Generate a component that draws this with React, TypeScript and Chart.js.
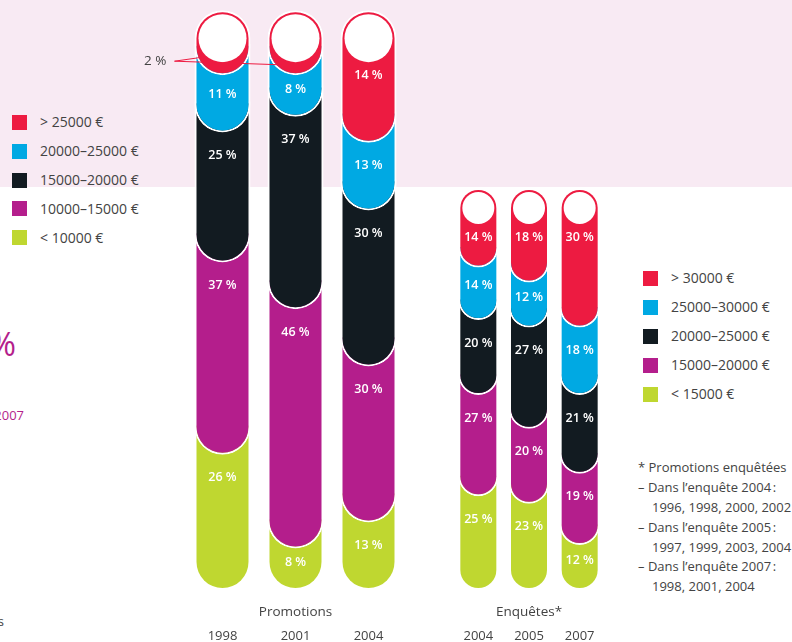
import React, { useEffect, useRef } from 'react';
import { Chart, registerables } from 'chart.js';

Chart.register(...registerables);

const FONT = '"Open Sans", "Noto Sans", sans-serif';
const TEXT = '#434343';
const PINK = '#F8EAF3';
const WHITE = '#FFFFFF';
const MAGENTA_TEXT = '#B41E8C';

// colours, top band first
const COLORS = ['#ED1B41', '#00A9E3', '#121B21', '#B41E8C', '#BFD730'];

const PROMO_BANDS = ['> 25000 €', '20000–25000 €', '15000–20000 €', '10000–15000 €', '< 10000 €'];
const ENQ_BANDS = ['> 30000 €', '25000–30000 €', '20000–25000 €', '15000–20000 €', '< 15000 €'];

const PROMO_YEARS = ['1998', '2001', '2004'];
const ENQ_YEARS = ['2004', '2005', '2007'];

// Promotions (share in %), per year 1998, 2001, 2004
const PROMO_OVER_25000 = [2, 2, 14];
const PROMO_20000_25000 = [11, 8, 13];
const PROMO_15000_20000 = [25, 37, 30];
const PROMO_10000_15000 = [37, 46, 30];
const PROMO_UNDER_10000 = [26, 8, 13];

// Enquêtes (share in %), per survey 2004, 2005, 2007
const ENQ_OVER_30000 = [14, 18, 30];
const ENQ_25000_30000 = [14, 12, 18];
const ENQ_20000_25000 = [20, 27, 21];
const ENQ_15000_20000 = [27, 20, 19];
const ENQ_UNDER_15000 = [25, 23, 12];

const NOTE_LINES = [
  '* Promotions enquêtées',
  '– Dans l’enquête 2004\u202F:',
  '1996, 1998, 2000, 2002',
  '– Dans l’enquête 2005\u202F:',
  '1997, 1999, 2003, 2004',
  '– Dans l’enquête 2007\u202F:',
  '1998, 2001, 2004',
];

type Group = {
  title: string;
  years: string[];
  bands: string[];
  series: number[][];
  thickness: number;
  area: { left: number; right: number; top: number; bottom: number };
  capTop: number;
  overlap: number;
};

const PROMO: Group = {
  title: 'Promotions',
  years: PROMO_YEARS,
  bands: PROMO_BANDS,
  series: [PROMO_OVER_25000, PROMO_20000_25000, PROMO_15000_20000, PROMO_10000_15000, PROMO_UNDER_10000],
  thickness: 56,
  area: { left: 186, right: 792 - 405, top: 70, bottom: 52 },
  capTop: 111.5,
  overlap: 6,
};

const ENQ: Group = {
  title: 'Enquêtes*',
  years: ENQ_YEARS,
  bands: ENQ_BANDS,
  series: [ENQ_OVER_30000, ENQ_25000_30000, ENQ_20000_25000, ENQ_15000_20000, ENQ_UNDER_15000],
  thickness: 40,
  area: { left: 453, right: 792 - 605, top: 215, bottom: 52 },
  capTop: 107.2,
  overlap: 6,
};

function belowOf(g: Group, b: number, j: number) {
  let s = 0;
  for (let k = b + 1; k < g.series.length; k++) s += g.series[k][j];
  return s;
}

function floatingData(g: Group) {
  return g.series.map((vals, b) =>
    vals.map((v, j) => {
      const below = belowOf(g, b, j);
      const high = b === 0 ? g.capTop : below + v + g.overlap;
      return [below, high];
    })
  );
}

function drawValue(ctx: CanvasRenderingContext2D, text: string, x: number, y: number) {
  ctx.font = `600 12.5px ${FONT}`;
  ctx.fillStyle = WHITE;
  ctx.textAlign = 'center';
  ctx.textBaseline = 'middle';
  ctx.fillText(text, x, y);
}

function tubePlugin(g: Group) {
  return {
    id: 'tubes',
    afterDatasetsDraw(chart: any) {
      const ctx: CanvasRenderingContext2D = chart.ctx;
      const yScale = chart.scales.y;
      const area = chart.chartArea;
      ctx.save();

      const small: { x: number; R: number; bottom: number; v: number }[] = [];
      const topMeta = chart.getDatasetMeta(0);
      topMeta.data.forEach((el: any, j: number) => {
        const p = el.getProps(['x', 'y', 'width'], true);
        const R = p.width / 2;
        const cy = p.y + R;
        const cr = R - 4;
        ctx.beginPath();
        ctx.arc(p.x, cy, cr, 0, Math.PI * 2);
        ctx.fillStyle = WHITE;
        ctx.fill();
        const v = g.series[0][j];
        if (v < 5) small.push({ x: p.x, R, bottom: cy + cr, v });
        else drawValue(ctx, `${v} %`, p.x, cy + cr + 13);
      });

      for (let b = 1; b < g.series.length; b++) {
        const meta = chart.getDatasetMeta(b);
        meta.data.forEach((el: any, j: number) => {
          const p = el.getProps(['x', 'base'], true);
          const v = g.series[b][j];
          const below = belowOf(g, b, j);
          const yHigh = yScale.getPixelForValue(below + v);
          const h = p.base - yHigh;
          drawValue(ctx, `${v} %`, p.x, yHigh + Math.min(23, h * 0.34));
        });
      }

      if (small.length) {
        const first = small[0];
        const ty = first.bottom - 1;
        const tx = first.x - first.R - 28;
        ctx.font = `13.5px ${FONT}`;
        ctx.fillStyle = TEXT;
        ctx.textAlign = 'right';
        ctx.textBaseline = 'middle';
        ctx.fillText(`${first.v} %`, tx, ty);
        ctx.strokeStyle = COLORS[0];
        ctx.lineWidth = 1;
        small.forEach((s, k) => {
          ctx.beginPath();
          ctx.moveTo(tx + 8, ty);
          if (k === 0) ctx.lineTo(s.x - s.R + 8, ty - 4);
          else ctx.lineTo(s.x - 3, ty + 4);
          ctx.stroke();
        });
      }

      // group title and years
      ctx.fillStyle = TEXT;
      ctx.textAlign = 'center';
      ctx.textBaseline = 'middle';
      ctx.font = `13.5px ${FONT}`;
      ctx.fillText(g.title, (area.left + area.right) / 2, area.bottom + 22);
      ctx.font = `13px ${FONT}`;
      topMeta.data.forEach((el: any, j: number) => {
        const p = el.getProps(['x'], true);
        ctx.fillText(g.years[j], p.x, area.bottom + 46);
      });

      ctx.restore();
    },
  };
}

function makeConfig(g: Group): any {
  const R = g.thickness / 2;
  const data = floatingData(g);
  return {
    type: 'bar',
    data: {
      labels: g.years,
      datasets: g.series.map((_, b) => ({
        label: g.bands[b],
        data: data[b],
        backgroundColor: COLORS[b],
        borderColor: WHITE,
        borderWidth: 2,
        borderSkipped: false,
        borderRadius: b === 0 ? R : { topLeft: 0, topRight: 0, bottomLeft: R, bottomRight: R },
        barThickness: g.thickness,
        inflateAmount: 0,
        grouped: false,
        clip: false,
      })),
    },
    options: {
      responsive: false,
      animation: false,
      devicePixelRatio: 1,
      events: [],
      layout: { padding: g.area },
      scales: {
        x: { type: 'category', display: false, offset: true },
        y: { type: 'linear', display: false, min: 0, max: 100 },
      },
      plugins: {
        legend: { display: false },
        tooltip: { enabled: false },
        title: { display: false },
      },
    },
    plugins: [tubePlugin(g)],
  };
}

function Legend({ bands, left, top, step }: { bands: string[]; left: number; top: number; step: number }) {
  return (
    <>
      {bands.map((b, i) => (
        <React.Fragment key={b + i}>
          <div
            style={{
              position: 'absolute',
              left,
              top: top + i * step - 7.5,
              width: 15,
              height: 15,
              background: COLORS[i],
            }}
          />
          <div
            style={{
              position: 'absolute',
              left: left + 28,
              top: top + i * step - 10,
              lineHeight: '20px',
              fontSize: 14,
              color: TEXT,
              whiteSpace: 'nowrap',
            }}
          >
            {b}
          </div>
        </React.Fragment>
      ))}
    </>
  );
}

export default function App() {
  const promoRef = useRef<HTMLCanvasElement>(null);
  const enqRef = useRef<HTMLCanvasElement>(null);

  useEffect(() => {
    const c1 = new Chart(promoRef.current as HTMLCanvasElement, makeConfig(PROMO));
    const c2 = new Chart(enqRef.current as HTMLCanvasElement, makeConfig(ENQ));
    return () => {
      c1.destroy();
      c2.destroy();
    };
  }, []);

  return (
    <div
      style={{
        position: 'absolute',
        left: 0,
        top: 0,
        width: 792,
        height: 642,
        overflow: 'hidden',
        background: WHITE,
        fontFamily: FONT,
      }}
    >
      <div style={{ position: 'absolute', left: 0, top: 0, width: 792, height: 187, background: PINK }} />

      <Legend bands={PROMO_BANDS} left={12} top={122.3} step={28.85} />
      <Legend bands={ENQ_BANDS} left={643} top={278.3} step={29} />

      {/* cropped texts at the left edge */}
      <div
        style={{
          position: 'absolute',
          right: 792 - 16,
          top: 344 - 20,
          lineHeight: '40px',
          fontSize: 32,
          color: MAGENTA_TEXT,
          whiteSpace: 'nowrap',
        }}
      >
        %
      </div>
      <div
        style={{
          position: 'absolute',
          right: 792 - 24,
          top: 415 - 10,
          lineHeight: '20px',
          fontSize: 13,
          color: MAGENTA_TEXT,
          whiteSpace: 'nowrap',
        }}
      >
        2007
      </div>
      <div
        style={{
          position: 'absolute',
          right: 792 - 4,
          top: 621 - 10,
          lineHeight: '20px',
          fontSize: 13,
          color: TEXT,
          whiteSpace: 'nowrap',
        }}
      >
        s
      </div>

      {NOTE_LINES.map((t, i) => (
        <div
          key={i}
          style={{
            position: 'absolute',
            left: /^\d/.test(t) ? 652 : 638,
            top: 467.3 + i * 19.8 - 10,
            lineHeight: '20px',
            fontSize: 13,
            color: TEXT,
            whiteSpace: 'nowrap',
          }}
        >
          {t}
        </div>
      ))}

      <canvas ref={promoRef} width={792} height={642} style={{ position: 'absolute', left: 0, top: 0 }} />
      <canvas ref={enqRef} width={792} height={642} style={{ position: 'absolute', left: 0, top: 0 }} />
    </div>
  );
}
